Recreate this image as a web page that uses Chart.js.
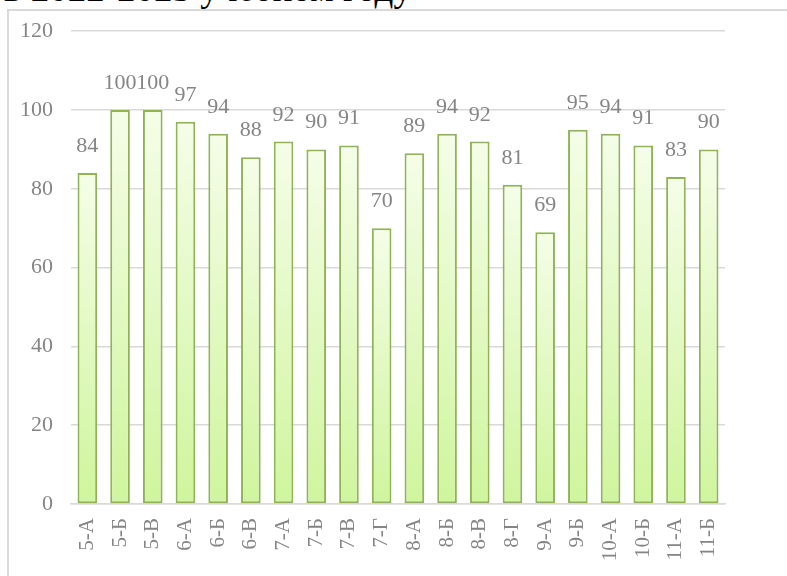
<!DOCTYPE html>
<html>
<head>
<meta charset="utf-8">
<script src="https://cdn.jsdelivr.net/npm/chart.js@4"></script>
<style>
  body { margin: 0; width: 787px; height: 576px; overflow: hidden; background: #fff; position: relative; }
  #title { position: absolute; left: 4px; top: -30px; font: 37px/37px 'Liberation Serif', serif; color: #000; white-space: nowrap; }
  #frame { position: absolute; left: 7px; top: 9px; width: 800px; height: 600px; border-left: 2px solid #d9d9d9; border-top: 2px solid #d9d9d9; }
  #chart { position: absolute; left: 0; top: 0; }
</style>
</head>
<body>
<div id="title">в 2022-2023 учебном году</div>
<div id="frame"></div>
<canvas id="chart" width="787" height="576"></canvas>
<script>
const classes = ['5-А', '5-Б', '5-В', '6-А', '6-Б', '6-В', '7-А', '7-Б', '7-В', '7-Г',
                 '8-А', '8-Б', '8-В', '8-Г', '9-А', '9-Б', '10-А', '10-Б', '11-А', '11-Б'];
const percents = [84, 100, 100, 97, 94, 88, 92, 90, 91, 70, 89, 94, 92, 81, 69, 95, 94, 91, 83, 90];
const yTicks = [0, 20, 40, 60, 80, 100, 120];

const gray = '#858585';

// bar fill: pale at the top of each bar, lime at the bottom
function barFill(context) {
    const chart = context.chart;
    if (!chart.chartArea) return '#e6f9c8';
    const y = chart.scales.y;
    const top = y.getPixelForValue(context.raw);
    const bottom = y.getPixelForValue(0);
    const g = chart.ctx.createLinearGradient(0, top, 0, bottom);
    g.addColorStop(0, '#f5fde8');
    g.addColorStop(1, '#cff59d');
    return g;
}

const valueLabels = {
    id: 'valueLabels',
    afterDatasetsDraw(chart) {
        const ctx = chart.ctx;
        const meta = chart.getDatasetMeta(0);
        ctx.save();
        ctx.font = '22px "Liberation Serif"';
        ctx.fillStyle = gray;
        ctx.textAlign = 'center';
        ctx.textBaseline = 'alphabetic';
        meta.data.forEach((bar, i) => {
            ctx.fillText(String(percents[i]), bar.x, bar.y - 21);
        });
        ctx.restore();
    }
};

const ctx = document.getElementById('chart').getContext('2d');
const chart = new Chart(ctx, {
    type: 'bar',
    data: {
        labels: classes,
        datasets: [{
            data: percents,
            backgroundColor: barFill,
            borderColor: '#8fb356',
            borderWidth: 2,
            borderSkipped: false,
            barPercentage: 0.6,
            categoryPercentage: 1
        }]
    },
    options: {
        responsive: false,
        animation: false,
        devicePixelRatio: 1,
        layout: { padding: { top: 25, right: 62, left: 0, bottom: 0 } },
        plugins: { legend: { display: false }, tooltip: { enabled: false } },
        scales: {
            y: {
                min: 0,
                max: 120,
                afterFit(scale) { scale.width = 71; },
                afterBuildTicks(scale) { scale.ticks = yTicks.map(v => ({ value: v })); },
                ticks: { color: gray, font: { family: 'Liberation Serif', size: 22 }, padding: 18 },
                grid: { color: '#d9d9d9', lineWidth: 1.5, drawTicks: false },
                border: { display: false }
            },
            x: {
                afterFit(scale) { scale.height = 72; },
                ticks: {
                    color: gray,
                    font: { family: 'Liberation Serif', size: 21 },
                    minRotation: 90,
                    maxRotation: 90,
                    autoSkip: false,
                    padding: 14
                },
                grid: { display: false, drawTicks: false },
                border: { color: '#d9d9d9', width: 1.5 }
            }
        }
    },
    plugins: [valueLabels]
});
</script>
</body>
</html>
